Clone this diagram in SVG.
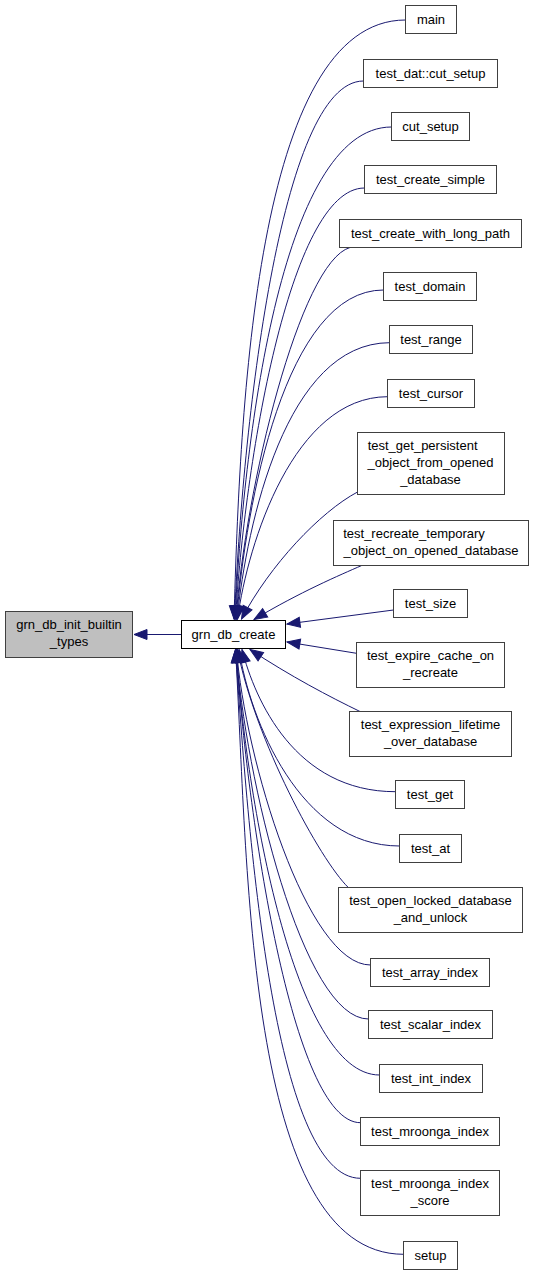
<svg xmlns="http://www.w3.org/2000/svg" width="533" height="1275" viewBox="0 0 533 1275">
<style>
.node rect{fill:#ffffff;stroke:#404040;stroke-width:1}
#n_init rect{fill:#bfbfbf}
#n_create rect{stroke:#000000}
text{font-family:"Liberation Sans",Arial,sans-serif;font-size:13px;text-anchor:middle;fill:#000000}
.edge{fill:none;stroke:#191970;stroke-width:1;marker-end:url(#ah)}
</style>
<defs>
<marker id="ah" markerUnits="userSpaceOnUse" viewBox="-1 -1 15 12" markerWidth="15" markerHeight="12" refX="13" refY="5" orient="auto">
<path d="M0,0 L13,5 L0,10 z" fill="#191970" stroke="#191970" stroke-width="1"/>
</marker>
</defs>
<rect width="533" height="1275" fill="#ffffff"/>
<g id="edges">
<path class="edge" d="M181,634.5 L134,634.5"/>
<path class="edge" d="M405.5,20 C255,20 240,410 234,619"/>
<path class="edge" d="M363.5,81 C280,81 242,430 234.5,619"/>
<path class="edge" d="M391.5,127 C280,127 243,447 235,619"/>
<path class="edge" d="M364.5,188 C289,188 244,469 235.5,619"/>
<path class="edge" d="M350,247.5 C300,262 245,489 236,619"/>
<path class="edge" d="M383.5,290 C285,290 246,504 236.5,619"/>
<path class="edge" d="M389.5,342.7 C286,343 247,523 237,619"/>
<path class="edge" d="M387.5,396.7 C294,397 248,542 237.5,619"/>
<path class="edge" d="M357.5,492 C320,512 270,565 241.5,619"/>
<path class="edge" d="M361.7,565.5 C340,575 300,592 254,619.5"/>
<path class="edge" d="M393.5,610 L287,624"/>
<path class="edge" d="M356.5,653.3 L287,642"/>
<path class="edge" d="M360,711.5 C330,697 290,676 250,649.5"/>
<path class="edge" d="M395.5,791.7 C295,791.7 255,700 242,649.5"/>
<path class="edge" d="M399.5,846 C300,846 250,720 239,649.5"/>
<path class="edge" d="M348.3,887.5 C320,860 255,740 237.5,649.5"/>
<path class="edge" d="M370.5,965 C307,965 245,759 236.5,649.5"/>
<path class="edge" d="M368.5,1019 C303,1019 245,778 236,649.5"/>
<path class="edge" d="M379.5,1075 C294,1075 246,797 236,649.5"/>
<path class="edge" d="M360.5,1122.7 C292,1122.7 247,814 236,649.5"/>
<path class="edge" d="M360.5,1178.3 C273,1178.3 248,833 235.5,649.5"/>
<path class="edge" d="M403.5,1254.3 C245,1254 248,860 235.5,649.5"/>
</g>
<g id="n_init" class="node"><rect x="5.5" y="611.5" width="127" height="46"/><text x="69" y="629">grn_db_init_builtin</text><text x="69" y="646">_types</text></g>
<g id="n_create" class="node"><rect x="181.5" y="620.5" width="104" height="28"/><text x="233.5" y="638.5">grn_db_create</text></g>
<g id="n_main" class="node"><rect x="405.5" y="5.5" width="51" height="28"/><text x="431" y="23.5">main</text></g>
<g id="n_dat_cut_setup" class="node"><rect x="363.5" y="59.5" width="134" height="28"/><text x="430.5" y="77.5">test_dat::cut_setup</text></g>
<g id="n_cut_setup" class="node"><rect x="391.5" y="112.5" width="78" height="28"/><text x="430.5" y="130.5">cut_setup</text></g>
<g id="n_create_simple" class="node"><rect x="364.5" y="165.5" width="132" height="28"/><text x="430.5" y="183.5">test_create_simple</text></g>
<g id="n_long_path" class="node"><rect x="339.5" y="219.5" width="182" height="28"/><text x="430.5" y="237.5">test_create_with_long_path</text></g>
<g id="n_domain" class="node"><rect x="383.5" y="272.5" width="93" height="28"/><text x="430" y="290.5">test_domain</text></g>
<g id="n_range" class="node"><rect x="389.5" y="325.5" width="83" height="28"/><text x="431" y="343.5">test_range</text></g>
<g id="n_cursor" class="node"><rect x="387.5" y="379.5" width="87" height="28"/><text x="431" y="397.5">test_cursor</text></g>
<g id="n_persistent" class="node"><rect x="357.5" y="432.5" width="147" height="62"/><text x="422.6" y="449.5">test_get_persistent</text><text x="430.5" y="466.5">_object_from_opened</text><text x="430.5" y="483.5">_database</text></g>
<g id="n_recreate" class="node"><rect x="333.5" y="520.5" width="195" height="45"/><text x="414" y="538">test_recreate_temporary</text><text x="431" y="555">_object_on_opened_database</text></g>
<g id="n_size" class="node"><rect x="393.5" y="589.5" width="74" height="28"/><text x="430.5" y="607.5">test_size</text></g>
<g id="n_expire" class="node"><rect x="356.5" y="642.5" width="148" height="45"/><text x="430.5" y="660">test_expire_cache_on</text><text x="430.5" y="677">_recreate</text></g>
<g id="n_expression" class="node"><rect x="349.5" y="711.5" width="162" height="45"/><text x="430.5" y="729">test_expression_lifetime</text><text x="430.5" y="746">_over_database</text></g>
<g id="n_get" class="node"><rect x="395.5" y="780.5" width="69" height="28"/><text x="430" y="798.5">test_get</text></g>
<g id="n_at" class="node"><rect x="399.5" y="834.5" width="62" height="28"/><text x="430.5" y="852.5">test_at</text></g>
<g id="n_open_locked" class="node"><rect x="338.5" y="887.5" width="184" height="45"/><text x="430.5" y="905">test_open_locked_database</text><text x="430.5" y="922">_and_unlock</text></g>
<g id="n_array_index" class="node"><rect x="370.5" y="958.5" width="119" height="28"/><text x="430" y="976.5">test_array_index</text></g>
<g id="n_scalar_index" class="node"><rect x="368.5" y="1010.5" width="124" height="28"/><text x="430.5" y="1028.5">test_scalar_index</text></g>
<g id="n_int_index" class="node"><rect x="379.5" y="1064.5" width="103" height="28"/><text x="431" y="1082.5">test_int_index</text></g>
<g id="n_mroonga_index" class="node"><rect x="360.5" y="1117.5" width="139" height="28"/><text x="430" y="1135.5">test_mroonga_index</text></g>
<g id="n_mroonga_score" class="node"><rect x="360.5" y="1170.5" width="139" height="45"/><text x="430" y="1188">test_mroonga_index</text><text x="430" y="1205">_score</text></g>
<g id="n_setup" class="node"><rect x="403.5" y="1241.5" width="54" height="28"/><text x="430.5" y="1259.5">setup</text></g>
</svg>
